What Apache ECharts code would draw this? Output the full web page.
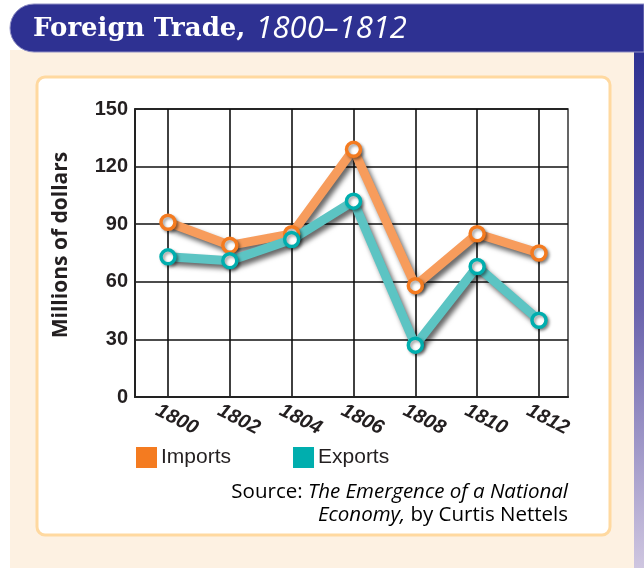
<!DOCTYPE html>
<html>
<head>
<meta charset="utf-8">
<style>
  html, body { margin: 0; padding: 0; background: #ffffff; }
  #chart { width: 644px; height: 568px; }
</style>
<script src="https://cdn.jsdelivr.net/npm/echarts@6/dist/echarts.min.js"></script>
</head>
<body>
<div id="chart"></div>
<script>
// Years on the x axis and the tick labels shown under it
const years = [1800, 1802, 1804, 1806, 1808, 1810, 1812];
const yearTicks = [1800, 1802, 1804, 1806, 1808, 1810, 1812];
// Millions of dollars
const imports = [91, 79, 85, 129, 58, 85, 75];
const exports = [73, 71, 82, 102, 27, 68, 40];
const valueTicks = [0, 30, 60, 90, 120, 150];

const chart = echarts.init(document.getElementById('chart'), null, { renderer: 'canvas' });

const condensed = '"Liberation Sans Narrow", "Arial Narrow", "Liberation Sans", Arial, sans-serif';
const humanist = '"Open Sans", "Noto Sans", sans-serif';

function pairs(vals) {
  return years.map((y, i) => [y, vals[i]]);
}

function lineSeries(name, vals, lineColor, markColor) {
  return {
    name: name,
    type: 'line',
    data: pairs(vals),
    symbol: 'circle',
    symbolSize: 14,
    lineStyle: {
      color: lineColor,
      width: 9,
      shadowColor: 'rgba(0,0,0,0.6)',
      shadowBlur: 5,
      shadowOffsetX: 3,
      shadowOffsetY: 4
    },
    itemStyle: {
      color: '#ffffff',
      borderColor: markColor,
      borderWidth: 3.5,
      shadowColor: 'rgba(0,0,0,0.35)',
      shadowBlur: 3,
      shadowOffsetX: 2,
      shadowOffsetY: 2
    },
    emphasis: { disabled: true },
    animation: false,
    z: 3
  };
}

const option = {
  animation: false,
  backgroundColor: '#ffffff',
  graphic: [
    // cream page
    { type: 'rect', shape: { x: 10, y: 50, width: 624, height: 518 }, style: { fill: '#fdf1e2' }, z: -10 },
    // right edge strip
    {
      type: 'rect', shape: { x: 634, y: 50, width: 10, height: 518 },
      style: {
        fill: new echarts.graphic.LinearGradient(0, 0, 0, 1, [
          { offset: 0, color: '#2e3192' },
          { offset: 0.5, color: '#6a63ad' },
          { offset: 1, color: '#cfc6e0' }
        ])
      }, z: -10
    },
    // title band
    { type: 'rect', shape: { x: 10, y: 4, width: 634, height: 48, r: [24, 0, 0, 24] }, style: { fill: '#2e3192', stroke: '#8f8fc4', lineWidth: 1 }, z: -9 },
    // white panel
    { type: 'rect', shape: { x: 37, y: 77, width: 573, height: 458, r: 8 }, style: { fill: '#ffffff', stroke: '#ffd9a0', lineWidth: 3 }, z: -8 },
    // source note
    {
      type: 'text', right: 76, top: 482, z: 5,
      style: {
        text: '{r|Source: }{i|The Emergence of a National}\n{i|Economy,}{r| by Curtis Nettels}',
        align: 'right',
        rich: {
          r: { fontFamily: humanist, fontSize: 20.5, color: '#231f20', lineHeight: 23, align: 'right' },
          i: { fontFamily: humanist, fontSize: 20.5, fontStyle: 'italic', color: '#231f20', lineHeight: 23, align: 'right' }
        }
      }
    }
  ],
  title: {
    left: 28, top: 9,
    text: '{a|Foreign Trade,}  {b|1800–1812}',
    textStyle: {
      fontWeight: 'normal',
      rich: {
        a: { fontFamily: '"DejaVu Serif", serif', fontWeight: 'bold', fontSize: 26, color: '#ffffff' },
        b: { fontFamily: humanist, fontStyle: 'italic', fontWeight: 'normal', fontSize: 31, color: '#ffffff' }
      }
    }
  },
  legend: {
    left: 136, top: 447, padding: 0,
    itemWidth: 19, itemHeight: 19, itemGap: 62,
    icon: 'rect',
    selectedMode: false,
    textStyle: { fontFamily: condensed, fontSize: 21, color: '#231f20', padding: [2, 0, 0, 0] },
    data: [
      { name: 'Imports', itemStyle: { color: '#f47b20' } },
      { name: 'Exports', itemStyle: { color: '#00aeae' } }
    ]
  },
  grid: {
    left: 135, right: 76, top: 109, bottom: 171,
    show: true, borderColor: '#333333', borderWidth: 1.5, backgroundColor: 'transparent'
  },
  xAxis: {
    type: 'value',
    min: 1798.933, max: 1812.938,
    axisLine: { show: true, lineStyle: { color: '#222', width: 2 } },
    axisTick: { show: false, customValues: yearTicks },
    splitLine: { show: true, lineStyle: { color: '#111', width: 1.6 } },
    axisLabel: {
      customValues: yearTicks,
      rotate: -27,
      align: 'center',
      verticalAlign: 'middle',
      margin: 18,
      padding: [0, 0, 0, 20],
      fontFamily: condensed,
      fontWeight: 'bold',
      fontStyle: 'italic',
      fontSize: 20,
      color: '#231f20',
      formatter: v => String(v)
    }
  },
  yAxis: {
    type: 'value',
    min: 0, max: 150, interval: 30,
    name: 'Millions of dollars',
    nameLocation: 'middle',
    nameRotate: 90,
    nameGap: 63,
    nameTextStyle: { fontFamily: humanist, fontWeight: 'bold', fontSize: 21, color: '#231f20', padding: [0, 0, 0, 16] },
    axisLine: { show: true, lineStyle: { color: '#222', width: 2 } },
    axisTick: { show: false },
    splitLine: { show: true, lineStyle: { color: '#111', width: 1.6 } },
    axisLabel: {
      margin: 7,
      fontFamily: condensed,
      fontWeight: 'bold',
      fontSize: 20,
      color: '#231f20',
      formatter: v => valueTicks.includes(v) ? String(v) : ''
    }
  },
  series: [
    lineSeries('Imports', imports, '#f79c5c', '#f47b20'),
    lineSeries('Exports', exports, '#5cc4c3', '#00aeae')
  ]
};

chart.setOption(option);
</script>
</body>
</html>
